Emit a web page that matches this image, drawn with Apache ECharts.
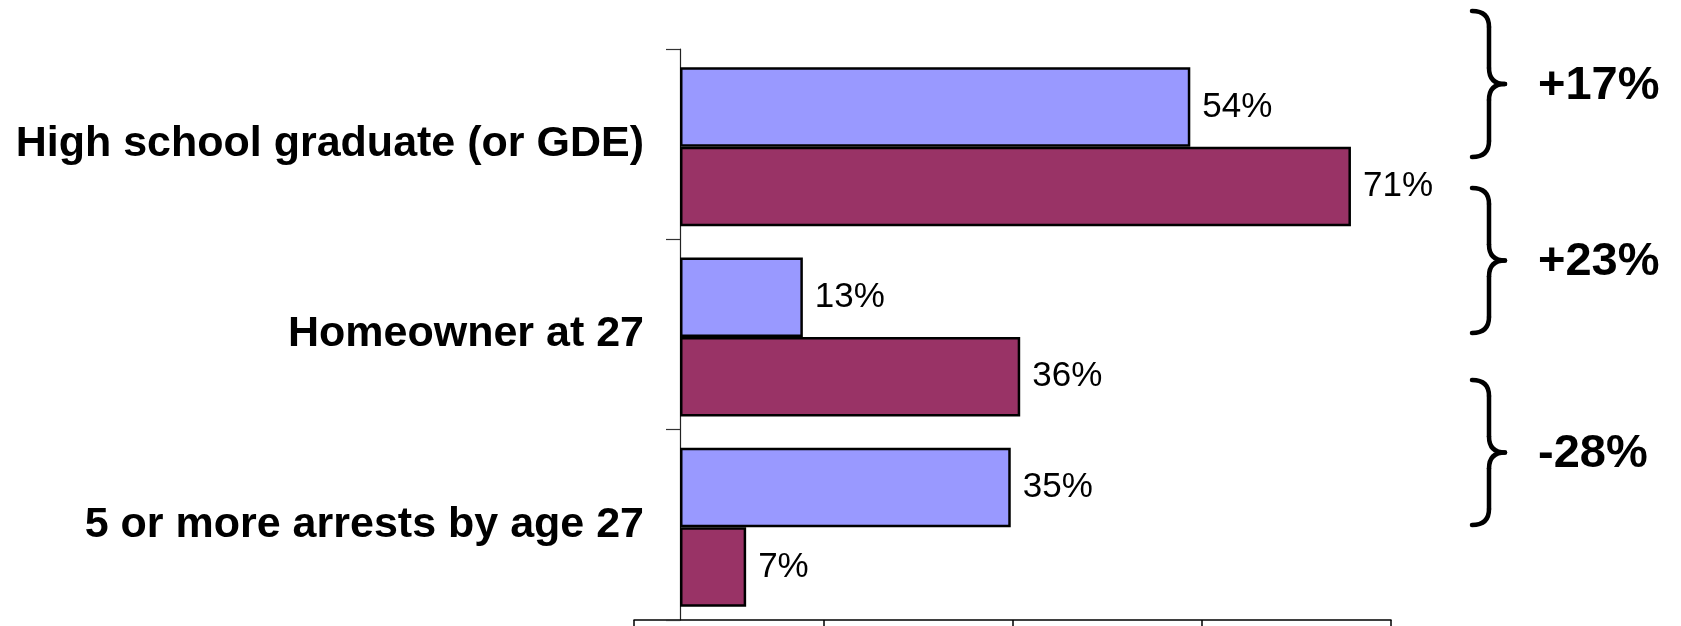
<!DOCTYPE html>
<html>
<head>
<meta charset="utf-8">
<style>
  html, body { margin: 0; padding: 0; background: #fff; }
  #chart { width: 1681px; height: 626px; }
</style>
<script src="https://cdn.jsdelivr.net/npm/echarts@6/dist/echarts.min.js"></script>
</head>
<body>
<div id="chart"></div>
<script>
// ---- data ----
var categories = ['High school graduate (or GDE)', 'Homeowner at 27', '5 or more arrests by age 27'];
var seriesA = [54, 13, 35];   // blue bars (upper bar of each pair)
var seriesB = [71, 36, 7];    // maroon bars (lower bar of each pair)
var diffLabels = ['+17%', '+23%', '-28%'];
var bottomTicks = [0, 1, 2, 3, 4];

// ---- helpers ----
var FONT = "'Liberation Sans', Arial, Helvetica, sans-serif";
var BRACE_STYLE = { fill: 'none', stroke: '#000', lineWidth: 4.5, lineCap: 'round' };

function braceParts(x0, xs, xt, y0, y1) {
  var ym = (y0 + y1) / 2;
  var r = 16;
  function q(ax, ay, cx, cy, bx, by) {
    return { type: 'bezierCurve', shape: { x1: ax, y1: ay, x2: bx, y2: by, cpx1: cx, cpy1: cy }, style: BRACE_STYLE };
  }
  function l(ax, ay, bx, by) {
    return { type: 'line', shape: { x1: ax, y1: ay, x2: bx, y2: by }, style: BRACE_STYLE };
  }
  return [
    q(x0, y0, xs, y0, xs, y0 + r),
    l(xs, y0 + r, xs, ym - r),
    q(xs, ym - r, xs, ym, xt, ym),
    q(xt, ym, xs, ym, xs, ym + r),
    l(xs, ym + r, xs, y1 - r),
    q(xs, y1 - r, xs, y1, x0, y1)
  ];
}

var braceSpans = [[11, 157], [188, 333], [380, 525]];
var graphics = [];
braceSpans.forEach(function (s, i) {
  braceParts(1472, 1489, 1505, s[0], s[1]).forEach(function (g) { graphics.push(g); });
  graphics.push({
    type: 'text',
    x: 1538,
    y: (s[0] + s[1]) / 2 + 2,
    style: { text: diffLabels[i], font: 'bold 47px ' + FONT, fill: '#000', verticalAlign: 'middle', align: 'left' }
  });
});

var chart = echarts.init(document.getElementById('chart'), null, { renderer: 'canvas' });

var barLabel = {
  show: true, position: 'right', distance: 12, formatter: '{c}%',
  color: '#000', fontFamily: FONT, fontSize: 35
};

chart.setOption({
  backgroundColor: '#fff',
  animation: false,
  grid: [
    // bars
    { left: 680, top: 51.5, width: 756, height: 571, containLabel: false },
    // bottom axis line with its ticks
    { left: 634, top: 49, width: 757, height: 571, containLabel: false },
    // category axis (labels, ticks, line)
    { left: 680, top: 49, width: 756, height: 571, containLabel: false }
  ],
  xAxis: [
    { gridIndex: 0, type: 'value', min: 0, max: 80, show: false },
    {
      gridIndex: 1, type: 'value', min: 0, max: bottomTicks.length - 1, interval: 1,
      axisLine: { show: true, lineStyle: { color: '#000', width: 1.5 } },
      axisTick: { show: true, inside: false, length: 10, lineStyle: { color: '#000', width: 1.5 } },
      axisLabel: { show: false },
      splitLine: { show: false }
    },
    { gridIndex: 2, type: 'value', min: 0, max: 80, show: false }
  ],
  yAxis: [
    { gridIndex: 0, type: 'category', data: categories, inverse: true, show: false },
    { gridIndex: 1, type: 'category', data: categories, show: false },
    {
      gridIndex: 2, type: 'category', data: categories, inverse: true,
      axisLine: { show: true, lineStyle: { color: '#222', width: 1.2 } },
      axisTick: { show: true, length: 14, lineStyle: { color: '#333', width: 1.2 } },
      axisLabel: {
        margin: 36, color: '#000', fontFamily: FONT, fontWeight: 'bold', fontSize: 43
      }
    }
  ],
  series: [
    {
      type: 'bar', xAxisIndex: 0, yAxisIndex: 0, data: seriesA,
      barGap: '0%', barCategoryGap: '16.5%',
      itemStyle: { color: '#9999FF', borderColor: '#000', borderWidth: 2.5 },
      label: barLabel
    },
    {
      type: 'bar', xAxisIndex: 0, yAxisIndex: 0, data: seriesB,
      barGap: '0%', barCategoryGap: '16.5%',
      itemStyle: { color: '#993366', borderColor: '#000', borderWidth: 2.5 },
      label: barLabel
    }
  ],
  graphic: graphics
});
</script>
</body>
</html>
